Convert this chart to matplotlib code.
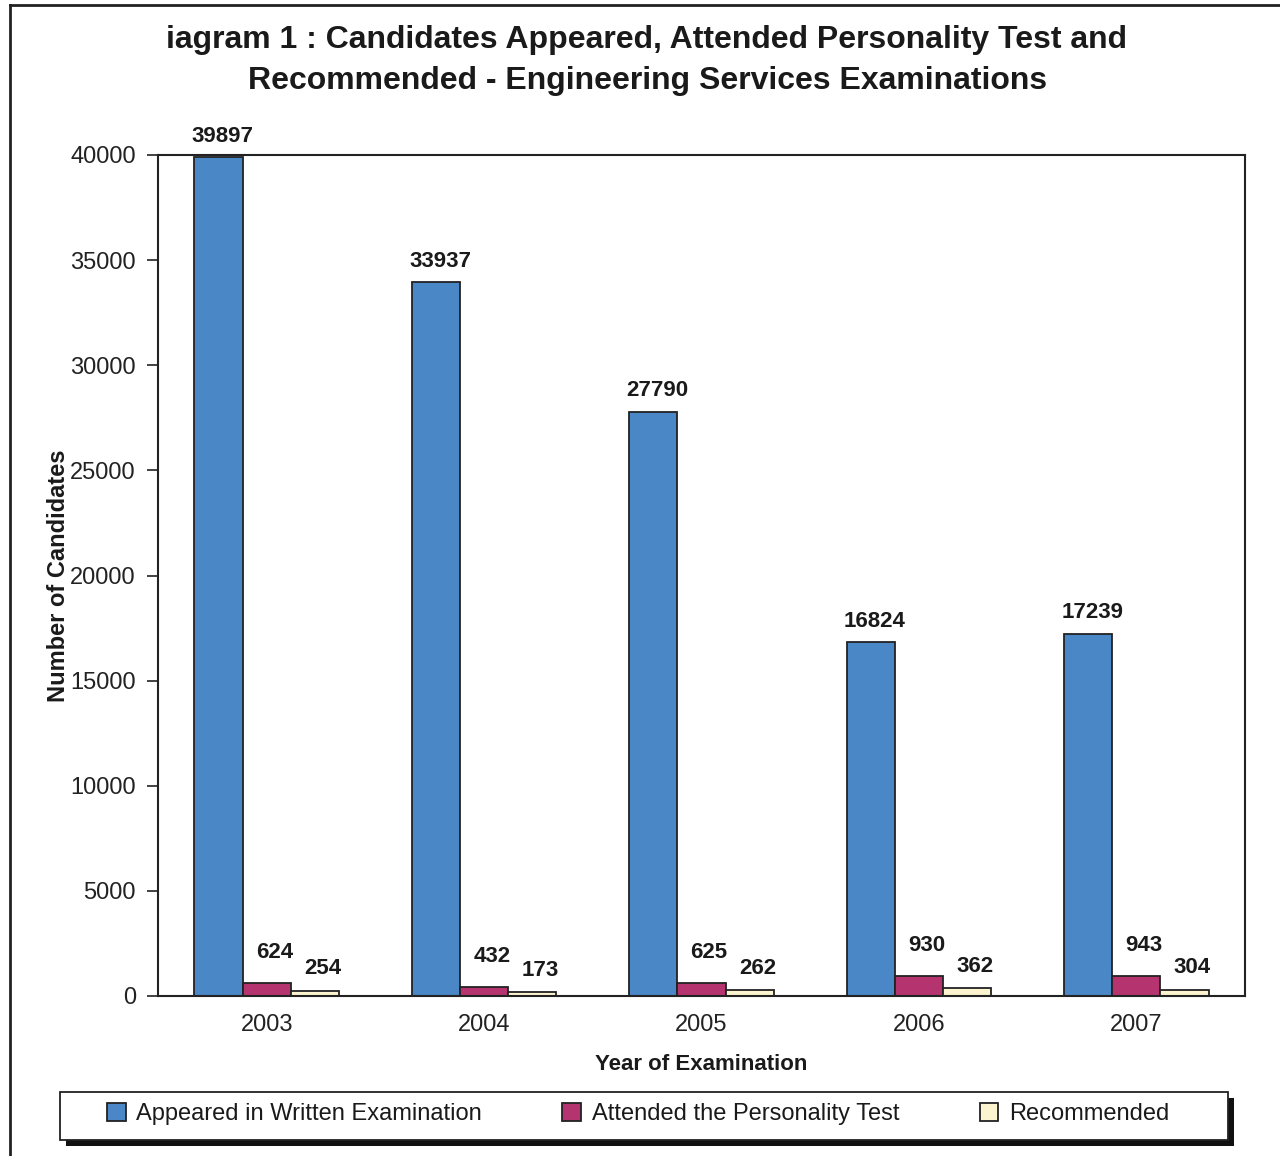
import numpy as np
import matplotlib
matplotlib.use("Agg")
import matplotlib.pyplot as plt
from matplotlib.lines import Line2D
from matplotlib.patches import Rectangle

plt.rcParams["font.family"] = ["Liberation Sans", "DejaVu Sans"]

years = ["2003", "2004", "2005", "2006", "2007"]
appeared = [39897, 33937, 27790, 16824, 17239]
attended = [624, 432, 625, 930, 943]
recommended = [254, 173, 262, 362, 304]

series_names = [
    "Appeared in Written Examination",
    "Attended the Personality Test",
    "Recommended",
]
series_colors = ["#4a87c6", "#b5336f", "#fcf4cf"]
label_offsets = [500, 950, 550]

W, H = 1280, 1156
fig = plt.figure(figsize=(W / 100, H / 100), dpi=100)
ax = fig.add_axes([158 / W, 1 - 996 / H, (1245 - 158) / W, (996 - 155) / H])

x = np.arange(len(years))
width = 0.222
for i, (vals, name, col) in enumerate(zip([appeared, attended, recommended], series_names, series_colors)):
    pos = x + (i - 1) * width
    bars = ax.bar(pos, vals, width, color=col, edgecolor="#222222", linewidth=1.3, label=name)
    for b, v in zip(bars, vals):
        ax.text(b.get_x() + b.get_width() / 2 + (0.035 if i else 0.02), v + label_offsets[i], str(v),
                ha="center", va="bottom", fontsize=16, fontweight="bold", color="#1a1a1a")

ax.set_xlim(-0.5, 4.5)
ax.set_ylim(0, 40000)
ax.set_yticks(range(0, 40001, 5000))
ax.set_xticks(x)
ax.set_xticklabels(years)
ax.tick_params(axis="y", length=8, width=1.2, labelsize=17, colors="#222222", pad=8)
ax.tick_params(axis="x", length=0, labelsize=17, colors="#222222", pad=13)
for s in ax.spines.values():
    s.set_linewidth(1.5)
    s.set_color("#222222")

ax.set_xlabel("Year of Examination", fontsize=16, fontweight="bold", labelpad=13, color="#1a1a1a")
ax.set_ylabel("Number of Candidates", fontsize=17, fontweight="bold", labelpad=0, color="#1a1a1a")

fig.text(0.505, 1 - 40 / H, "iagram 1 : Candidates Appeared, Attended Personality Test and",
         ha="center", va="center", fontsize=23, fontweight="bold", color="#1a1a1a")
fig.text(0.506, 1 - 81 / H, "Recommended - Engineering Services Examinations",
         ha="center", va="center", fontsize=23, fontweight="bold", color="#1a1a1a")

# legend box with a solid drop shadow
fig.add_artist(Rectangle((66 / W, 1 - 1146 / H), (1228 - 60) / W, 48 / H,
                         transform=fig.transFigure, facecolor="#111111", edgecolor="none"))
fig.add_artist(Rectangle((60 / W, 1 - 1140 / H), (1228 - 60) / W, 48 / H,
                         transform=fig.transFigure, facecolor="white", edgecolor="#222222", lw=1.3))

handles, labels = ax.get_legend_handles_labels()
leg = fig.legend(handles, labels, ncol=3, loc="center",
                 bbox_to_anchor=(638 / W, 1 - 1114 / H),
                 fontsize=17, frameon=False,
                 handlelength=0.8, handleheight=0.8,
                 handletextpad=0.45, columnspacing=3.4)
for t in leg.get_texts():
    t.set_color("#1a1a1a")

# outer frame
fig.add_artist(Line2D([10 / W, 10 / W], [0, 1 - 5 / H], color="#222222", lw=2,
                      transform=fig.transFigure))
fig.add_artist(Line2D([10 / W, 1], [1 - 5 / H, 1 - 5 / H], color="#222222", lw=2,
                      transform=fig.transFigure))

fig.savefig("out.png", dpi=100)
